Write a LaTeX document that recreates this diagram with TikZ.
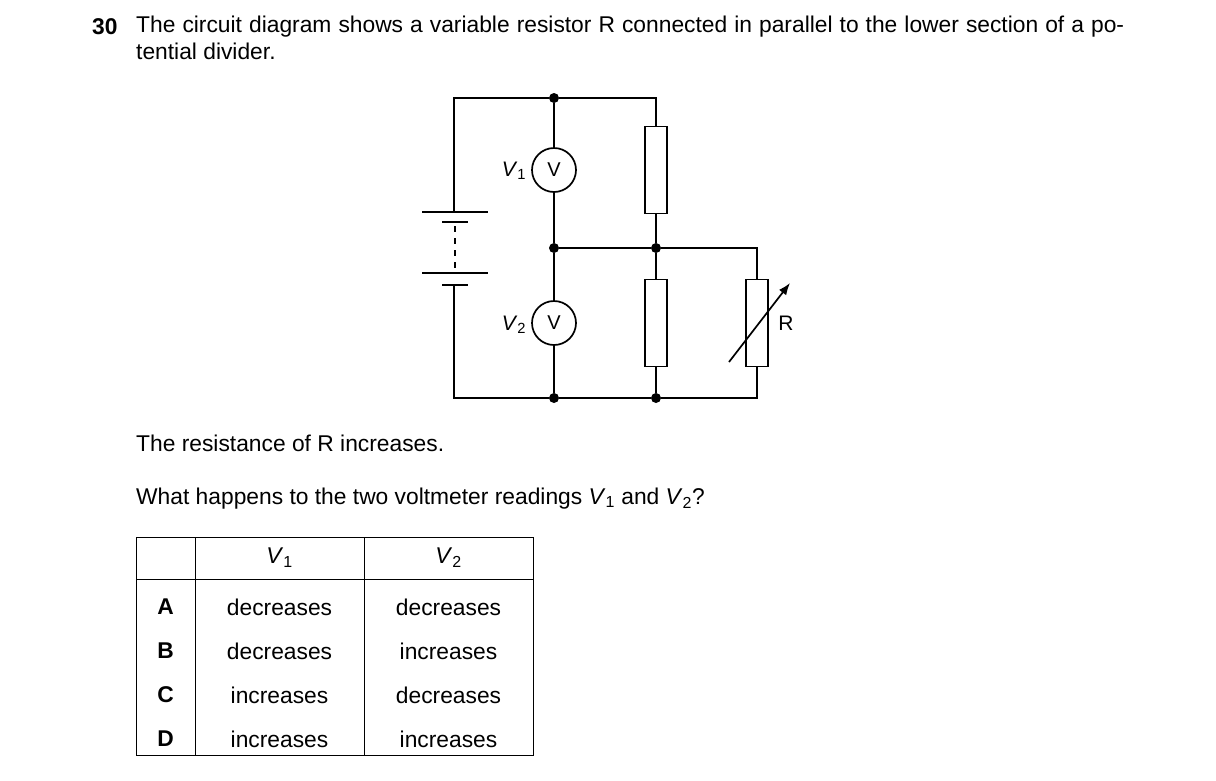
\documentclass[tikz,border=0pt]{standalone}
\usepackage{fontspec}
\setmainfont{Liberation Sans}
\usetikzlibrary{arrows.meta}
\begin{document}
\begin{tikzpicture}[x=1pt,y=-1pt,
  w/.style={line width=1.7pt},
  dot/.style={circle,fill,inner sep=0pt,minimum size=10pt},
  res/.style={draw,line width=1.7pt,fill=white,minimum width=22pt,minimum height=87pt,inner sep=0pt},
  met/.style={draw,line width=1.7pt,fill=white,circle,minimum size=44pt,inner sep=0pt,font=\fontsize{20}{22}\selectfont},
  txt/.style={font=\fontsize{22.8}{27}\selectfont,anchor=base west,inner sep=0pt},
  cell/.style={font=\fontsize{22.8}{26}\selectfont,inner sep=0pt}]
\useasboundingbox (0,0) rectangle (1216,780);
% text
\node[txt,font=\fontsize{22.8}{27}\selectfont\bfseries] (q) at (92,34) {30};
\node[txt,anchor=north west] (t1) at (136,16) {\parbox{988pt}{\fontsize{22.8}{26.5}\selectfont The circuit diagram shows a variable resistor R connected in parallel to the lower section of a potential divider.}};
\node[txt] (t3) at (136,451) {The resistance of R increases.};
\node[txt] (t4) at (136,504) {What happens to the two voltmeter readings \textit{V}\textsubscript{1} and \textit{V}\textsubscript{2}?};
% circuit nodes
\coordinate (tl) at (454,98); \node[dot] (tm) at (554,98) {}; \coordinate (tr) at (656,98);
\node[dot] (mm) at (554,248) {}; \node[dot] (mr) at (656,248) {}; \coordinate (mrr) at (757,248);
\coordinate (bl) at (454,398); \node[dot] (bm) at (554,398) {}; \node[dot] (br) at (656,398) {}; \coordinate (brr) at (757,398);
\node[met] (v1) at (554,170) {V};
\node[met] (v2) at (554,323) {V};
\node[res] (r1) at (656,170) {};
\node[res] (r2) at (656,323) {};
\node[res] (r3) at (757,323) {};
\coordinate (b1) at (454,212); \coordinate (b2) at (454,285);
\draw[w] (b1) -- (tl) -- (tm) -- (tr) -- (r1.north);
\draw[w] (tm) -- (v1.north); \draw[w] (v1.south) -- (mm) -- (v2.north);
\draw[w] (v2.south) -- (bm);
\draw[w] (r1.south) -- (mr) -- (r2.north); \draw[w] (r2.south) -- (br);
\draw[w] (mm) -- (mr) -- (mrr) -- (r3.north); \draw[w] (r3.south) -- (brr) -- (br) -- (bm) -- (bl) -- (b2);
% battery
\draw[w] (422,212) -- (488,212);
\draw[w] (442,222) -- (468,222);
\draw[w] (422,273) -- (488,273);
\draw[w] (442,285) -- (468,285);
\draw[line width=1.5pt,dash pattern=on 6pt off 6pt] (455,226) -- (455,270);
% variable arrow
\coordinate (a1) at (729,362); \coordinate (a2) at (790,283);
\draw[w,-{Latex[length=12pt,width=9pt]}] (a1) -- (a2);
\node[font=\fontsize{21}{22}\selectfont] (rl) at (786,323) {R};
\node[font=\fontsize{21}{22}\selectfont] (l1) at (514,171) {\textit{V}\textsubscript{1}};
\node[font=\fontsize{21}{22}\selectfont] (l2) at (514,325) {\textit{V}\textsubscript{2}};
% table
\draw[line width=0.8pt] (136,537) rectangle (533,755);
\draw[line width=0.8pt] (136,579) -- (533,579);
\draw[line width=0.8pt] (195,537) -- (195,755);
\draw[line width=0.8pt] (364,537) -- (364,755);
\node[cell] (h1) at (279.5,558) {\textit{V}\textsubscript{1}};
\node[cell] (h2) at (448.5,558) {\textit{V}\textsubscript{2}};
\foreach \l/\a/\b/\y in {A/decreases/decreases/607,B/decreases/increases/651,C/increases/decreases/695,D/increases/increases/739}{
  \node[cell,font=\fontsize{22.8}{26}\selectfont\bfseries] at (165.5,\y) {\l};
  \node[cell] at (279.5,\y) {\a};
  \node[cell] at (448.5,\y) {\b};
}
\end{tikzpicture}
\end{document}
